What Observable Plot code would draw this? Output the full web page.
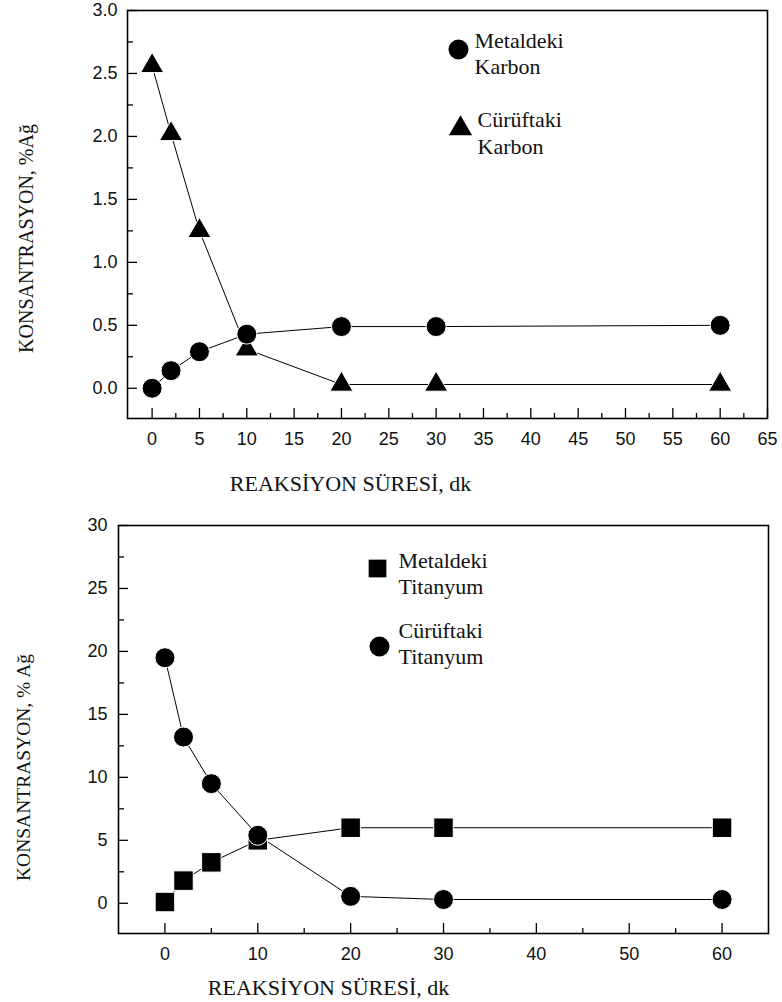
<!DOCTYPE html>
<html><head><meta charset="utf-8">
<script src="https://cdn.jsdelivr.net/npm/d3@7"></script>
<script src="https://cdn.jsdelivr.net/npm/@observablehq/plot@0.6"></script>
<style>
body{margin:0;background:#fff;}
#c{width:782px;}
#c svg{display:block;background:#fff;}
</style></head><body><div id="c"></div>
<script>
// ---- data ----
const timeMin = [0, 2, 5, 10, 20, 30, 60];
const metalC  = [0.00, 0.14, 0.29, 0.43, 0.49, 0.49, 0.50];
const curufC  = [2.56, 2.02, 1.25, 0.31, 0.03, 0.03, 0.03];
const metalTi = [0.1, 1.8, 3.25, 5.0, 6.0, 6.0, 6.0];
const curufTi = [19.5, 13.2, 9.5, 5.4, 0.55, 0.3, 0.3];

const xMajorTop = [0, 5, 10, 15, 20, 25, 30, 35, 40, 45, 50, 55, 60, 65];
const xMinorTop = [2.5, 7.5, 12.5, 17.5, 22.5, 27.5, 32.5, 37.5, 42.5, 47.5, 52.5, 57.5, 62.5];
const yMajorTop = [0, 0.5, 1.0, 1.5, 2.0, 2.5, 3.0];
const yMinorTop = [0.25, 0.75, 1.25, 1.75, 2.25, 2.75];
const xMajorBot = [0, 10, 20, 30, 40, 50, 60];
const xMinorBot = [5, 15, 25, 35, 45, 55];
const yMajorBot = [0, 5, 10, 15, 20, 25, 30];
const yMinorBot = [2.5, 7.5, 12.5, 17.5, 22.5, 27.5];

const yLabelTop = "KONSANTRASYON, %Ağ";
const yLabelBot = "KONSANTRASYON, % Ağ";
const xLabel = "REAKSİYON SÜRESİ, dk";
const legMetalC = "Metaldeki\nKarbon";
const legCurufC = "Cürüftaki\nKarbon";
const legMetalTi = "Metaldeki\nTitanyum";
const legCurufTi = "Cürüftaki\nTitanyum";

const SANS = "Liberation Sans, Arial, sans-serif";
const SERIF = "Liberation Serif, Times New Roman, serif";

const rows = (vals) => timeMin.map((t, i) => ({t, v: vals[i]}));

function tickMarks(xMaj, xMin, yMaj, yMin, pw, ph, xPad, yPad, yFmt) {
  return [
    Plot.ruleX(xMaj, {x: d => d, insetTop: ph - 10, stroke: "black", strokeWidth: 1.3}),
    Plot.ruleX(xMin, {x: d => d, insetTop: ph - 5, stroke: "black", strokeWidth: 1.3}),
    Plot.ruleY(yMaj, {y: d => d, insetRight: pw - 10, stroke: "black", strokeWidth: 1.3}),
    Plot.ruleY(yMin, {y: d => d, insetRight: pw - 6, stroke: "black", strokeWidth: 1.3}),
    Plot.axisX(xMaj, {anchor: "bottom", tickSize: 0, tickPadding: xPad, label: null, fontSize: 18, fontFamily: SANS, fill: "#111"}),
    Plot.axisY(yMaj, {anchor: "left", tickSize: 0, tickPadding: yPad, label: null, tickFormat: yFmt, fontSize: 18, fontFamily: SANS, fill: "#111"})
  ];
}

// ---- top chart ----
const W = 782;
const topM = {l: 127, r: 15, t: 10, b: 82}, topH = 500;
const topPW = W - topM.l - topM.r, topPH = topH - topM.t - topM.b;
const chartTop = Plot.plot({
  width: W, height: topH,
  marginLeft: topM.l, marginRight: topM.r, marginTop: topM.t, marginBottom: topM.b,
  x: {domain: [-2.6, 65]},
  y: {domain: [-0.24, 3.0]},
  style: {fontFamily: SANS, color: "black", background: "white"},
  marks: [
    ...tickMarks(xMajorTop, xMinorTop, yMajorTop, yMinorTop, topPW, topPH, 14, 10, d3.format(".1f")),
    Plot.frame({stroke: "black", strokeWidth: 1.6}),
    Plot.line(rows(curufC), {x: "t", y: "v", stroke: "black", strokeWidth: 1}),
    Plot.line(rows(metalC), {x: "t", y: "v", stroke: "black", strokeWidth: 1}),
    Plot.dot(rows(curufC), {x: "t", y: "v", symbol: "triangle", r: 8.6, fill: "black", stroke: "white", strokeWidth: 1}),
    Plot.dot(rows(metalC), {x: "t", y: "v", symbol: "circle", r: 10, fill: "black", stroke: "white", strokeWidth: 1}),
    // legend
    Plot.dot([legMetalC], {frameAnchor: "top-left", dx: 331, dy: 39, r: 10, fill: "black"}),
    Plot.text([legMetalC], {frameAnchor: "top-left", dx: 347, dy: 42, text: d => d, textAnchor: "start", lineAnchor: "middle", lineHeight: 1.18, fontSize: 22, fontFamily: SERIF, fill: "#111"}),
    Plot.dot([legCurufC], {frameAnchor: "top-left", dx: 333, dy: 118, symbol: "triangle", r: 8.6, fill: "black"}),
    Plot.text([legCurufC], {frameAnchor: "top-left", dx: 350, dy: 121.5, text: d => d, textAnchor: "start", lineAnchor: "middle", lineHeight: 1.2, fontSize: 22, fontFamily: SERIF, fill: "#111"}),
    // axis labels
    Plot.text([xLabel], {frameAnchor: "bottom", dx: -97, dy: 65, text: d => d, textAnchor: "middle", lineAnchor: "middle", fontSize: 22, fontFamily: SERIF, fill: "#111"}),
    Plot.text([yLabelTop], {frameAnchor: "left", dx: -101, dy: 24, rotate: -90, text: d => d, textAnchor: "middle", lineAnchor: "middle", fontSize: 20, fontFamily: SERIF, fill: "#111"})
  ]
});

// ---- bottom chart ----
const botM = {l: 118, r: 14, t: 25, b: 69}, botH = 502;
const botPW = W - botM.l - botM.r, botPH = botH - botM.t - botM.b;
const chartBot = Plot.plot({
  width: W, height: botH,
  marginLeft: botM.l, marginRight: botM.r, marginTop: botM.t, marginBottom: botM.b,
  x: {domain: [-5, 65]},
  y: {domain: [-2.4, 30]},
  style: {fontFamily: SANS, color: "black", background: "white"},
  marks: [
    ...tickMarks(xMajorBot, xMinorBot, yMajorBot, yMinorBot, botPW, botPH, 14, 11, d3.format("d")),
    Plot.frame({stroke: "black", strokeWidth: 1.6}),
    Plot.line(rows(metalTi), {x: "t", y: "v", stroke: "black", strokeWidth: 1}),
    Plot.line(rows(curufTi), {x: "t", y: "v", stroke: "black", strokeWidth: 1}),
    Plot.dot(rows(metalTi), {x: "t", y: "v", symbol: "square", r: 11, fill: "black", stroke: "white", strokeWidth: 1}),
    Plot.dot(rows(curufTi), {x: "t", y: "v", symbol: "circle", r: 10, fill: "black", stroke: "white", strokeWidth: 1}),
    // legend
    Plot.dot([legMetalTi], {frameAnchor: "top-left", dx: 259, dy: 43, symbol: "square", r: 10, fill: "black"}),
    Plot.text([legMetalTi], {frameAnchor: "top-left", dx: 280, dy: 47.5, text: d => d, textAnchor: "start", lineAnchor: "middle", lineHeight: 1.15, fontSize: 22, fontFamily: SERIF, fill: "#111"}),
    Plot.dot([legCurufTi], {frameAnchor: "top-left", dx: 261, dy: 121, r: 10, fill: "black"}),
    Plot.text([legCurufTi], {frameAnchor: "top-left", dx: 280, dy: 117.5, text: d => d, textAnchor: "start", lineAnchor: "middle", lineHeight: 1.15, fontSize: 22, fontFamily: SERIF, fill: "#111"}),
    // axis labels
    Plot.text([xLabel], {frameAnchor: "bottom", dx: -115, dy: 54, text: d => d, textAnchor: "middle", lineAnchor: "middle", fontSize: 22, fontFamily: SERIF, fill: "#111"}),
    Plot.text([yLabelBot], {frameAnchor: "left", dx: -95, dy: 38, rotate: -90, text: d => d, textAnchor: "middle", lineAnchor: "middle", fontSize: 19.5, fontFamily: SERIF, fill: "#111"})
  ]
});

const c = document.getElementById("c");
c.appendChild(chartTop);
c.appendChild(chartBot);
</script>
</body></html>
